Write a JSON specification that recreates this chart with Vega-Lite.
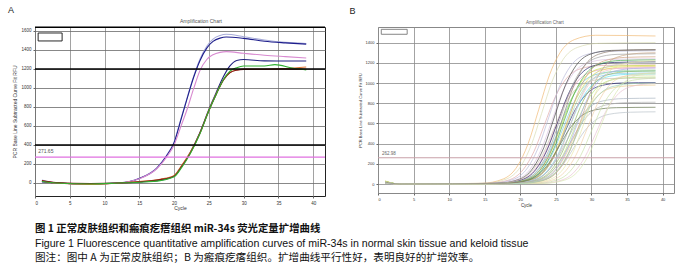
{
  "$schema": "https://vega.github.io/schema/vega-lite/v6.json",
  "background": "white",
  "padding": {"left": 7, "top": 5, "right": 4, "bottom": 4},
  "spacing": 11,
  "config": {
    "font": "Liberation Sans",
    "axis": {"labelFontSize": 4.5, "titleFontSize": 5, "titleFontWeight": "normal", "labelColor": "#333", "titleColor": "#333", "tickSize": 2, "tickColor": "#666", "domain": false, "gridColor": "#7d7d7d", "gridWidth": 0.8, "labelPadding": 2, "format": "d"}
  },
  "datasets": {
    "a": [
      {"s":"a1","c":"#a8acd8","x":[1,3,8,12,15,17.5,18.9,20,21,21.8,22.8,23.7,24.7,25.6,26.6,27.5,30,33,36,39],"y":[30,0,-10,0,50,160,290,430,680,880,1120,1300,1440,1515,1552,1565,1540,1505,1480,1468]},
      {"s":"a2","c":"#1e1e8c","x":[1,3,8,12,15,17.5,18.9,20,21,21.8,22.8,23.7,24.7,25.6,26.6,27.5,30,33,36,39],"y":[20,0,-10,0,48,155,284,425,670,870,1110,1285,1420,1490,1525,1537,1522,1492,1475,1462]},
      {"s":"a3","c":"#d88ad0","x":[1,3,8,12,15,17.5,18.9,20,21,21.8,22.8,23.7,24.7,25.6,26.6,27.5,30,33,36,39],"y":[25,0,-15,0,45,150,270,400,600,760,990,1180,1300,1350,1375,1383,1365,1345,1330,1316]},
      {"s":"a5","c":"#20207e","x":[1,3,8,12,15,18,20,21.1,22.3,23.7,25,26.1,27.1,28,29,30,33,36,39],"y":[10,0,-10,0,10,30,74,179,319,530,775,960,1120,1230,1290,1300,1285,1284,1284]},
      {"s":"a7","c":"#e07838","x":[1,3,8,12,15,18,20,21.1,22.3,23.7,25,26.1,27.1,28,29,30,33,36,39],"y":[20,0,-15,0,15,40,80,185,320,525,765,945,1085,1160,1190,1197,1197,1205,1221]},
      {"s":"a8","c":"#801818","x":[1,3,8,12,15,18,20,21.1,22.3,23.7,25,26.1,27.1,28,29,30,33,36,39],"y":[25,5,-5,0,12,35,70,175,310,520,760,940,1085,1160,1188,1196,1198,1200,1198]},
      {"s":"a6","c":"#30b030","x":[1,3,8,12,15,18,20,21.1,22.3,23.7,25,26.1,27.1,28,29,30,33,34.5,37,39],"y":[15,0,-10,0,8,25,65,165,305,515,760,940,1090,1175,1214,1232,1232,1246,1210,1190]}
    ],
    "b": [
      {"s":"b1","c":"#f0b870","x":[1,3,14.6,17.6,19.6,21.1,22.6,24.1,25.6,27.6,30.6,39],"y":[18,0,7,50,178,400,740,1080,1302,1430,1473,1466]},
      {"s":"b2","c":"#d8dcb0","x":[1,3,15,18,20,21.5,23,24.5,26,28,31,39],"y":[15,0,7,48,168,378,700,1022,1232,1352,1393,1400]},
      {"s":"b3","c":"#e0a8a8","x":[1,3,15.4,18.4,20.4,21.9,23.4,24.9,26.4,28.4,31.4,39],"y":[12,0,6,40,142,319,590,861,1038,1140,1174,1180]},
      {"s":"b4","c":"#b8b8d8","x":[1,3,16,19,21,22.5,24,25.5,27,29,32,39],"y":[20,0,7,45,158,356,660,964,1162,1275,1313,1320]},
      {"s":"b5","c":"#d8c0e0","x":[1,3,16.4,19.4,21.4,22.9,24.4,25.9,27.4,29.4,32.4,39],"y":[10,0,6,42,149,335,620,905,1091,1198,1234,1240]},
      {"s":"b6","c":"#404040","x":[1,3,16.8,19.8,21.8,23.3,24.8,26.3,27.8,29.8,32.8,39],"y":[25,0,7,45,160,359,665,971,1170,1285,1323,1330]},
      {"s":"b7","c":"#e8a0c0","x":[1,3,17,20,22,23.5,25,26.5,28,30,33,39],"y":[14,0,6,39,138,311,575,840,1012,1111,1144,1150]},
      {"s":"b8","c":"#1c1c60","x":[1,3,17.2,20.2,22.2,23.7,25.2,26.7,28.2,30.2,33.2,39],"y":[18,0,6,41,145,327,605,883,1065,1169,1204,1210]},
      {"s":"b9","c":"#60c8c8","x":[1,3,17.5,20.5,22.5,24,25.5,27,28.5,30.5,33.5,39],"y":[22,0,6,38,134,302,560,818,986,1082,1114,1120]},
      {"s":"b10","c":"#a0a0a0","x":[1,3,17.6,20.6,22.6,24.1,25.6,27.1,28.6,30.6,33.6,39],"y":[8,0,6,44,155,348,645,942,1135,1246,1284,1290]},
      {"s":"b11","c":"#c8e040","x":[1,3,17.8,20.8,22.8,24.3,25.8,27.3,28.8,30.8,33.8,39],"y":[28,0,6,40,141,317,588,858,1034,1135,1169,1175]},
      {"s":"b12","c":"#80c8e8","x":[1,3,18,21,23,24.5,26,27.5,29,31,34,39],"y":[16,0,6,37,132,297,550,803,968,1063,1095,1100]},
      {"s":"b13","c":"#40a848","x":[1,3,18.1,21.1,23.1,24.6,26.1,27.6,29.1,31.1,34.1,39],"y":[24,0,6,42,148,332,615,898,1082,1188,1224,1230]},
      {"s":"b14","c":"#202070","x":[1,3,18.2,21.2,23.2,24.7,26.2,27.7,29.2,31.2,34.2,39],"y":[12,0,5,34,121,271,503,734,884,971,1000,1005]},
      {"s":"b15","c":"#e8e050","x":[1,3,18.4,21.4,23.4,24.9,26.4,27.9,29.4,31.4,34.4,39],"y":[30,0,6,40,140,315,583,850,1025,1125,1159,1165]},
      {"s":"b16","c":"#a8d8a8","x":[1,3,18.5,21.5,23.5,25,26.5,28,29.5,31.5,34.5,39],"y":[20,0,6,38,136,305,565,825,994,1092,1124,1130]},
      {"s":"b17","c":"#d0a080","x":[1,3,18.7,21.7,23.7,25.2,26.7,28.2,29.7,31.7,34.7,39],"y":[10,0,6,43,151,340,630,920,1109,1217,1254,1260]},
      {"s":"b18","c":"#60e0f0","x":[1,3,18.8,21.8,23.8,25.3,26.8,28.3,29.8,31.8,34.8,39],"y":[18,0,5,37,131,294,545,796,959,1053,1085,1090]},
      {"s":"b19","c":"#f0c0c8","x":[1,3,19,22,24,25.5,27,28.5,30,32,35,39],"y":[14,0,6,39,139,313,580,847,1021,1121,1154,1160]},
      {"s":"b20","c":"#c8c8c8","x":[1,3,19.1,22.1,24.1,25.6,27.1,28.6,30.1,32.1,35.1,39],"y":[12,0,6,41,144,324,600,876,1056,1159,1194,1200]},
      {"s":"b21","c":"#90b860","x":[1,3,19.3,22.3,24.3,25.8,27.3,28.8,30.3,32.3,35.3,39],"y":[26,0,6,38,134,302,560,818,986,1082,1114,1120]},
      {"s":"b22","c":"#b8e878","x":[1,3,19.5,22.5,24.5,26,27.5,29,30.5,32.5,35.5,39],"y":[22,0,5,36,127,286,530,774,933,1024,1055,1060]},
      {"s":"b23","c":"#e8c888","x":[1,3,19.7,22.7,24.7,26.2,27.7,29.2,30.7,32.7,35.7,39],"y":[10,0,5,33,118,265,490,715,862,947,975,980]},
      {"s":"b24","c":"#a8a8e8","x":[1,3,19.9,22.9,24.9,26.4,27.9,29.4,30.9,32.9,35.9,39],"y":[16,0,6,39,138,311,575,840,1012,1111,1144,1150]},
      {"s":"b25","c":"#607048","x":[1,3,17.5,20.5,22.5,24,25.5,27,28.5,30.5,33.5,39],"y":[12,0,4,26,91,205,380,555,669,734,756,760]},
      {"s":"b26","c":"#a8b4c0","x":[1,3,18.5,21.5,23.5,25,26.5,28,29.5,31.5,34.5,39],"y":[8,0,4,29,102,230,425,621,748,821,846,850]},
      {"s":"b27","c":"#b0b0b0","x":[1,3,19,22,24,25.5,27,28.5,30,32,35,39],"y":[14,0,4,28,97,219,405,591,713,782,806,810]},
      {"s":"b28","c":"#b8c0c8","x":[1,3,19.5,22.5,24.5,26,27.5,29,30.5,32.5,35.5,39],"y":[10,0,4,24,86,193,358,522,629,691,711,715]},
      {"s":"b29","c":"#d8d8a8","x":[1,3,20.2,23.2,25.2,26.7,28.2,29.7,31.2,33.2,36.2,39],"y":[20,0,5,37,130,292,540,788,950,1043,1075,1080]},
      {"s":"b30","c":"#c8a888","x":[1,3,20.6,23.6,25.6,27.1,28.6,30.1,31.6,33.6,36.6,39],"y":[14,0,7,44,156,351,650,949,1144,1256,1294,1300]},
      {"s":"b31","c":"#e8e8a8","x":[1,3,21,24,26,27.5,29,30.5,32,34,37,39],"y":[22,0,6,41,146,329,610,891,1074,1179,1214,1220]},
      {"s":"b32","c":"#f0d0a8","x":[1,3,21.4,24.4,26.4,27.9,29.4,30.9,32.4,34.4,37.4,39],"y":[18,0,6,37,132,297,550,803,968,1063,1095,1098]},
      {"s":"b33","c":"#c8e0a8","x":[1,3,22,25,27,28.5,30,31.5,33,35,38,39],"y":[12,0,5,36,126,284,525,767,924,1014,1045,1048]},
      {"s":"b34","c":"#e8c0d0","x":[1,3,22.6,25.6,27.6,29.1,30.6,32.1,33.6,35.6,38.6,39],"y":[16,0,5,34,120,270,500,730,880,966,995,996]},
      {"s":"b35","c":"#d8e8b0","x":[1,3,23.2,26.2,28.2,29.7,31.2,32.7,34.2,36.2,39],"y":[24,0,6,38,133,300,555,810,977,1072,1103]},
      {"s":"b36","c":"#c8c0b0","x":[1,3,16.6,19.6,21.6,23.1,24.6,26.1,27.6,29.6,32.6,39],"y":[10,0,5,36,126,284,525,767,924,1014,1045,1050]},
      {"s":"b37","c":"#a0d0b8","x":[1,3,20,23,25,26.5,28,29.5,31,33,36,39],"y":[14,0,5,34,120,270,500,730,880,966,995,1000]},
      {"s":"b38","c":"#908070","x":[1,3,18,21,23,24.5,26,27.5,29,31,34,39],"y":[20,0,7,45,160,359,665,971,1170,1285,1323,1330]}
    ]
  },
  "vconcat": [
    {
      "spacing": 22,
      "hconcat": [
        {
          "width": 290,
          "height": 169,
          "title": {"text": "A", "anchor": "start", "frame": "group", "dx": -27, "fontSize": 9, "fontWeight": "normal", "offset": 4, "color": "#222"},
          "view": {"stroke": "#222", "strokeWidth": 1},
          "encoding": {
            "x": {"field": "x", "type": "quantitative", "scale": {"domain": [0, 41.7], "nice": false, "zero": false}, "axis": {"values": [0,5,10,15,20,25,30,35,40], "title": "Cycle", "titlePadding": 1, "gridColor": "#8a8a8a"}},
            "y": {"field": "y", "type": "quantitative", "scale": {"domain": [-137, 1642], "nice": false, "zero": false}, "axis": {"values": [0,200,400,600,800,1000,1200,1400,1600], "title": "PCR Base Line Subtracted Curve Fit RFU", "titlePadding": 3, "gridColor": "#6a6a6a"}}
          },
          "layer": [
            {
              "data": {"name": "a"},
              "transform": [{"flatten": ["x", "y"]}],
              "mark": {"type": "line", "interpolate": "monotone", "strokeWidth": 1.1},
              "encoding": {
                "detail": {"field": "s"},
                "color": {"field": "c", "type": "nominal", "scale": null}
              }
            },
            {
              "data": {"values": [{"x": 0, "x2": 41.7, "y": 400, "c": "#000000", "w": 1.4}, {"x": 0, "x2": 41.7, "y": 1200, "c": "#000000", "w": 1.4}, {"x": 0, "x2": 41.7, "y": 1640, "c": "#000000", "w": 1.4}, {"x": 0, "x2": 41.7, "y": 272, "c": "#e070e0", "w": 1.3}]},
              "mark": {"type": "rule"},
              "encoding": {"x2": {"field": "x2"}, "color": {"field": "c", "type": "nominal", "scale": null}, "strokeWidth": {"field": "w", "type": "quantitative", "scale": null}}
            },
            {
              "data": {"values": [{"x": 0.45, "y": 272, "t": "271.65"}, {"x": 20.85, "y": 1642, "t": "Amplification Chart"}]},
              "mark": {"type": "text", "align": "left", "baseline": "bottom", "dy": -3, "fontSize": 5, "color": "#555"},
              "encoding": {
                "text": {"field": "t"},
                "align": {"condition": {"test": "datum.y > 1000", "value": "center"}, "value": "left"}
              }
            },
            {
              "data": {"values": [{"x": 0.45, "x2": 3.9, "y": 1495, "y2": 1579}]},
              "mark": {"type": "rect", "fill": "white", "stroke": "#111", "strokeWidth": 0.9},
              "encoding": {"x2": {"field": "x2"}, "y2": {"field": "y2"}}
            }
          ]
        },
        {
          "width": 296,
          "height": 166,
          "title": {"text": "B", "anchor": "start", "frame": "group", "dx": -28.5, "fontSize": 9, "fontWeight": "normal", "offset": 4, "color": "#222"},
          "view": {"stroke": "#888", "strokeWidth": 1},
          "encoding": {
            "x": {"field": "x", "type": "quantitative", "scale": {"domain": [0, 41.6], "nice": false, "zero": false}, "axis": {"values": [0,5,10,15,20,25,30,35,40], "title": "Cycle", "titlePadding": 1, "gridColor": "#8c8c8c", "labelFontSize": 4, "titleFontSize": 4.5}},
            "y": {"field": "y", "type": "quantitative", "scale": {"domain": [-89, 1555], "nice": false, "zero": false}, "axis": {"values": [0,200,400,600,800,1000,1200,1400], "title": "PCR Base Line Subtracted Curve Fit RFU", "titlePadding": 3, "gridColor": "#8c8c8c", "labelFontSize": 4, "titleFontSize": 4}}
          },
          "layer": [
            {
              "data": {"name": "b"},
              "transform": [{"flatten": ["x", "y"]}],
              "mark": {"type": "line", "interpolate": "monotone", "strokeWidth": 0.8, "opacity": 0.85},
              "encoding": {
                "detail": {"field": "s"},
                "color": {"field": "c", "type": "nominal", "scale": null}
              }
            },
            {
              "data": {"values": [{"x": 0, "x2": 41.6, "y": 260}]},
              "mark": {"type": "rule", "color": "#c8a0a8", "strokeWidth": 1.1},
              "encoding": {"x2": {"field": "x2"}}
            },
            {
              "data": {"values": [{"x": 0.55, "y": 260, "t": "262.98"}, {"x": 20.8, "y": 1555, "t": "Amplification Chart"}]},
              "mark": {"type": "text", "align": "left", "baseline": "bottom", "dy": -2, "fontSize": 4.5, "color": "#666"},
              "encoding": {
                "text": {"field": "t"},
                "align": {"condition": {"test": "datum.y > 1000", "value": "center"}, "value": "left"}
              }
            },
            {
              "data": {"values": [{"x": 0.46, "x2": 4.1, "y": 1483, "y2": 1532}]},
              "mark": {"type": "rect", "fill": "white", "stroke": "#777", "strokeWidth": 0.9},
              "encoding": {"x2": {"field": "x2"}, "y2": {"field": "y2"}}
            }
          ]
        }
      ]
    },
    {
      "width": 660,
      "height": 43.5,
      "view": {"stroke": null},
      "encoding": {
        "x": {"field": "x", "type": "quantitative", "scale": {"domain": [0, 100], "nice": false, "zero": false}, "axis": null},
        "y": {"field": "y", "type": "quantitative", "scale": {"domain": [0.5, 3.5], "nice": false, "zero": false, "reverse": true}, "axis": null},
        "text": {"field": "t"}
      },
      "layer": [
        {
          "data": {"values": [{"x": 0, "y": 1, "t": "图 1     正常皮肤组织和瘢痕疙瘩组织 miR-34s 荧光定量扩增曲线"}]},
          "mark": {"type": "text", "align": "left", "baseline": "middle", "font": "Noto Sans CJK SC", "fontSize": 10.4, "fontWeight": "bold", "color": "#111"}
        },
        {
          "data": {"values": [{"x": 0, "y": 2, "t": "Figure 1       Fluorescence quantitative amplification curves of miR-34s in normal skin tissue and keloid tissue"}]},
          "mark": {"type": "text", "align": "left", "baseline": "middle", "font": "Liberation Sans", "fontSize": 10.6, "color": "#111"}
        },
        {
          "data": {"values": [{"x": 0, "y": 3, "t": "图注：图中 A 为正常皮肤组织；B 为瘢痕疙瘩组织。扩增曲线平行性好，表明良好的扩增效率。"}]},
          "mark": {"type": "text", "align": "left", "baseline": "middle", "font": "Noto Sans CJK SC", "fontSize": 10.6, "color": "#111"}
        }
      ]
    }
  ]
}
